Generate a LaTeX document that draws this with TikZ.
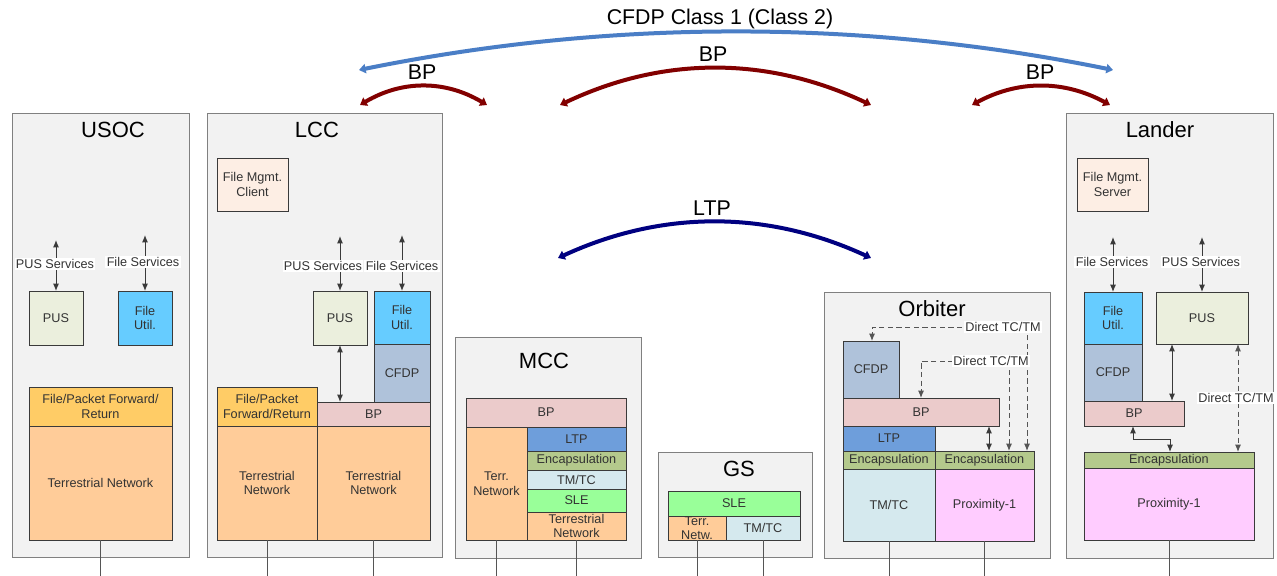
\documentclass[tikz,border=0pt]{standalone}
\usepackage{fontspec}
\setmainfont{Liberation Sans}
\usetikzlibrary{arrows.meta}
\definecolor{outerfill}{HTML}{F2F2F2}
\definecolor{boxgray}{HTML}{808080}
\definecolor{laydark}{HTML}{3A3A3A}
\definecolor{txt}{HTML}{333333}
\definecolor{linegray}{HTML}{555555}
\definecolor{cPUS}{HTML}{EBEFDD}
\definecolor{cFU}{HTML}{66CCFF}
\definecolor{cCFDP}{HTML}{AFC2DA}
\definecolor{cBP}{HTML}{EBCBCB}
\definecolor{cFPF}{HTML}{FFCC66}
\definecolor{cTN}{HTML}{FFCC99}
\definecolor{cFM}{HTML}{FDEEE4}
\definecolor{cLTP}{HTML}{6E9EDB}
\definecolor{cEnc}{HTML}{B4C98C}
\definecolor{cTMTC}{HTML}{D5E9EE}
\definecolor{cSLE}{HTML}{99FF99}
\definecolor{cProx}{HTML}{FFCCFF}
\definecolor{arcblue}{HTML}{4A7EC6}
\definecolor{arcred}{HTML}{820000}
\definecolor{arcnavy}{HTML}{000080}
\tikzset{
  outerbox/.style={draw=boxgray, fill=outerfill, line width=0.75pt, inner sep=0pt, outer sep=0pt},
  lay/.style={draw=laydark, line width=0.75pt, inner sep=0pt, outer sep=0pt},
  laytext/.style={align=center, font=\fontsize{9.5}{10.8}\selectfont, text=txt, inner sep=0pt},
  ttl/.style={font=\fontsize{16.5}{19}\selectfont, text=black, inner sep=0pt},
  biglbl/.style={font=\fontsize{16}{19}\selectfont, text=black, inner sep=0pt},
  lbl/.style={fill=white, inner sep=1pt, font=\fontsize{9.5}{10.8}\selectfont, text=txt},
  dar/.style={draw=laydark, line width=0.75pt, {Latex[length=5.5pt,width=4.5pt]}-{Latex[length=5.5pt,width=4.5pt]}},
  dashar/.style={dar, draw=linegray, dash pattern=on 4pt off 2.5pt},
  ln/.style={draw=linegray, line width=0.75pt},
  arcline/.style={line width=3pt, {Triangle[length=5pt,width=7pt]}-{Triangle[length=5pt,width=7pt]}},
}
\newcommand\blk[7]{%
  \node[lay,fill=#6,minimum width={0.75pt*(#4-#2)},minimum height={0.75pt*(#5-#3)}] (#1) at ({(#2+#4)/2},{(#3+#5)/2}) {};
  \node[laytext] (#1t) at (#1.center) {#7};}
\newcommand\obox[5]{%
  \node[outerbox,minimum width={0.75pt*(#4-#2)},minimum height={0.75pt*(#5-#3)}] (#1) at ({(#2+#4)/2},{(#3+#5)/2}) {};}
\begin{document}
\begin{tikzpicture}[x=0.75pt,y=-0.75pt]
\fill[white] (0,0) rectangle (1277,575);
\useasboundingbox (0,0) rectangle (1277,575);

% ---------- outer boxes ----------
\obox{usBox}{12}{113}{189}{557}
\obox{lcBox}{207}{113}{442}{557}
\obox{mcBox}{455}{337}{641}{558}
\obox{gsBox}{658}{452}{812}{557}
\obox{orBox}{824}{292}{1050}{558}
\obox{laBox}{1066}{113}{1273}{558}

\node[ttl] (usT) at (113,130) {USOC};
\node[ttl] (lcT) at (317,130) {LCC};
\node[ttl] (mcT) at (544,361) {MCC};
\node[ttl] (gsT) at (739,469) {GS};
\node[ttl] (orT) at (932,309) {Orbiter};
\node[ttl] (laT) at (1160,130) {Lander};

% ---------- USOC ----------
\blk{usPUS}{29}{291}{83}{345}{cPUS}{PUS}
\blk{usFU}{118}{291}{172}{345}{cFU}{File\\Util.}
\blk{usFPF}{29}{387}{172}{426}{cFPF}{File/Packet Forward/\\Return}
\blk{usTN}{29}{426}{172}{540}{cTN}{Terrestrial Network}

% ---------- LCC ----------
\blk{lcFM}{217}{158}{288}{211}{cFM}{File Mgmt.\\Client}
\blk{lcPUS}{313}{291}{367}{345}{cPUS}{PUS}
\blk{lcFU}{374}{291}{430}{344}{cFU}{File\\Util.}
\blk{lcCFDP}{374}{344}{430}{402}{cCFDP}{CFDP}
\blk{lcBP}{317}{402}{430}{426}{cBP}{BP}
\blk{lcFPF}{217}{387}{317}{426}{cFPF}{File/Packet\\Forward/Return}
\blk{lcTN1}{217}{426}{317}{540}{cTN}{Terrestrial\\Network}
\blk{lcTN2}{317}{426}{430}{540}{cTN}{Terrestrial\\Network}

% ---------- MCC ----------
\blk{mcBP}{466}{398}{626}{427}{cBP}{BP}
\blk{mcTerr}{466}{427}{527}{540}{cTN}{Terr.\\Network}
\blk{mcLTP}{527}{427}{626}{451}{cLTP}{LTP}
\blk{mcEnc}{527}{451}{626}{470}{cEnc}{Encapsulation}
\blk{mcTMTC}{527}{470}{626}{489}{cTMTC}{TM/TC}
\blk{mcSLE}{527}{489}{626}{512}{cSLE}{SLE}
\blk{mcTN}{527}{512}{626}{540}{cTN}{Terrestrial\\Network}

% ---------- GS ----------
\blk{gsSLE}{668}{491}{800}{516}{cSLE}{SLE}
\blk{gsTerr}{668}{516}{726}{540}{cTN}{Terr.\\Netw.}
\blk{gsTMTC}{726}{516}{800}{540}{cTMTC}{TM/TC}

% ---------- Orbiter ----------
\blk{orCFDP}{843}{341}{899}{398}{cCFDP}{CFDP}
\blk{orBP}{843}{398}{999}{426}{cBP}{BP}
\blk{orLTP}{843}{426}{935}{451}{cLTP}{LTP}
\blk{orEncA}{843}{451}{935}{469}{cEnc}{Encapsulation}
\blk{orEncB}{935}{451}{1034}{469}{cEnc}{Encapsulation}
\blk{orTMTC}{843}{469}{935}{541}{cTMTC}{TM/TC}
\blk{orProx}{935}{469}{1034}{541}{cProx}{Proximity-1}

% ---------- Lander ----------
\blk{laFM}{1077}{158}{1148}{211}{cFM}{File Mgmt.\\Server}
\blk{laFU}{1084}{292}{1142}{344}{cFU}{File\\Util.}
\blk{laCFDP}{1084}{344}{1142}{401}{cCFDP}{CFDP}
\blk{laBP}{1084}{401}{1184}{426}{cBP}{BP}
\blk{laPUS}{1156}{292}{1248}{344}{cPUS}{PUS}
\blk{laEnc}{1084}{452}{1254}{468}{cEnc}{Encapsulation}
\blk{laProx}{1084}{468}{1254}{540}{cProx}{Proximity-1}

% ---------- service arrows ----------
\draw[dar] (usPUS.north) -- ++(0,-51);
\draw[dar] (usFU.north) -- ++(0,-56);
\draw[dar] (lcPUS.north) -- ++(0,-55);
\draw[dar] (lcFU.north) -- ++(0,-56);
\draw[dar] (laFU.north) -- ++(0,-55);
\draw[dar] (laPUS.north) -- ++(0,-55);
\node[lbl] (usL1) at (55,264) {PUS Services};
\node[lbl] (usL2) at (143,262) {File Services};
\node[lbl] (lcL1) at (323,266) {PUS Services};
\node[lbl] (lcL2) at (402,266) {File Services};
\node[lbl] (laL1) at (1112,262) {File Services};
\node[lbl] (laL2) at (1201,262) {PUS Services};

% ---------- internal arrows ----------
\draw[dar] (lcPUS.south) -- (lcPUS.south |- lcBP.north);
\coordinate (xo) at (989,0);
\draw[dar] (orBP.south -| xo) -- (orEncB.north -| xo);
\coordinate (xla) at (1172,0);
\draw[dar] (laPUS.south -| xla) -- (laBP.north -| xla);
\coordinate (xa) at (1133,0);
\coordinate (xb) at (1170,0);
\coordinate (yb) at (0,439);
\draw[dar] (laBP.south -| xa) -- (xa |- yb) -- (xb |- yb) -- (laEnc.north -| xb);

% ---------- Direct TC/TM ----------
\coordinate (o1) at (1027,0);
\coordinate (c1) at (872,0);
\coordinate (y1) at (0,327);
\draw[dashar] (orEncB.north -| o1) -- (o1 |- y1) -- (c1 |- y1) -- (orCFDP.north -| c1);
\coordinate (o2) at (1009,0);
\coordinate (c2) at (921,0);
\coordinate (y2) at (0,361);
\draw[dashar] (orEncB.north -| o2) -- (o2 |- y2) -- (c2 |- y2) -- (orBP.north -| c2);
\node[lbl] (orD1) at (1003,327) {Direct TC/TM};
\node[lbl] (orD2) at (991,361) {Direct TC/TM};
\coordinate (xd) at (1238,0);
\draw[dashar] (laPUS.south -| xd) -- (laEnc.north -| xd);
\node[lbl] (laD) at (1236,398) {Direct TC/TM};

% ---------- bottom lines ----------
\foreach \n in {usTN,lcTN1,lcTN2,mcTerr,mcTN,gsTerr,gsTMTC,orTMTC,orProx,laProx}
  \draw[ln] (\n.south) -- ++(0,40);

% ---------- top arcs ----------
\coordinate (cfL) at (359,70);
\coordinate (cfR) at (1113,70);
\draw[arcline, draw=arcblue] (cfL) .. controls (610,19) and (862,19) .. (cfR);
\node[biglbl] (cfT) at (720,19) {CFDP Class 1 (Class 2)};

\coordinate (b1L) at (360,105);
\coordinate (b1R) at (487,105);
\draw[arcline, draw=arcred] (b1L) .. controls (402,80) and (445,80) .. (b1R);
\node[biglbl] (b1T) at (422,72) {BP};

\coordinate (b2L) at (560,105);
\coordinate (b2R) at (871,105);
\draw[arcline, draw=arcred] (b2L) .. controls (663,56) and (767,56) .. (b2R);
\node[biglbl] (b2T) at (713,54) {BP};

\coordinate (b3L) at (972,105);
\coordinate (b3R) at (1110,105);
\draw[arcline, draw=arcred] (b3L) .. controls (1018,80) and (1064,80) .. (b3R);
\node[biglbl] (b3T) at (1040,72) {BP};

\coordinate (ltL) at (558,258);
\coordinate (ltR) at (871,258);
\draw[arcline, draw=arcnavy] (ltL) .. controls (662,210) and (767,210) .. (ltR);
\node[biglbl] (ltT) at (712,208) {LTP};
\end{tikzpicture}
\end{document}
